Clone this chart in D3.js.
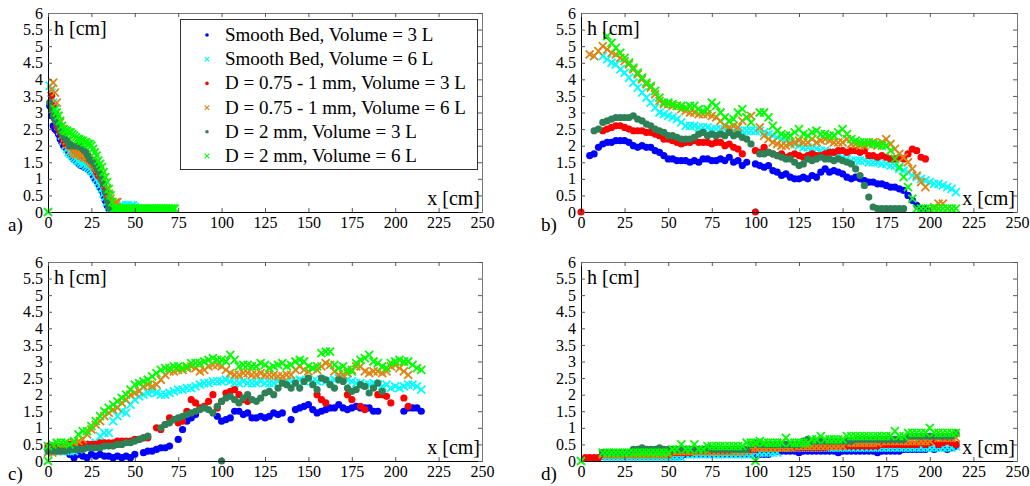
<!doctype html>
<html>
<head>
  <meta charset="utf8">
  <title>h vs x</title>
  <style>
    body {
      margin: 0;
      padding: 0;
      background: #fff;
    }
    svg {
      display: block;
      font-family: 'Liberation Serif', 'Times New Roman', serif;
    }
  </style>
</head>
<body>
  <svg></svg>

  <script src="https://d3js.org/d3.v7.min.js"></script>
  <script>
    const xTickValues = [0, 25, 50, 75, 100, 125, 150, 175, 200, 225, 250]
    const yTickValues = [0, 0.5, 1, 1.5, 2, 2.5, 3, 3.5, 4, 4.5, 5, 5.5, 6]
    const panelLabels = ['a)', 'b)', 'c)', 'd)']
    const seriesNames = [
      'Smooth Bed, Volume = 3 L',
      'Smooth Bed, Volume = 6 L',
      'D = 0.75 - 1 mm, Volume = 3 L',
      'D = 0.75 - 1 mm, Volume = 6 L',
      'D = 2 mm, Volume = 3 L',
      'D = 2 mm, Volume = 6 L'
    ]
    const seriesColors = ['#0000ff', '#00ffff', '#ff0000', '#dd8514', '#2e8056', '#00ff00']
    const seriesMarkers = ['dot', 'x', 'dot', 'x', 'dot', 'x']

    // spacing of the readings along x, per panel (cm)
    const panelStep = [1, 2.5, 2.5, 2.5]

    // each series: list of [x start, h values], null = no reading

    // panel a)
    const aBlue = [[1, [3.2, 2.9, 2.6, 2.5, 2.45, 2.35, 2.2, 2.1, 2.0, 1.95, 1.9, 1.8, 1.75, 1.65, 1.6, 1.55, 1.5, 1.45, 1.4, 1.4,
      1.35, 1.35, 1.3, 1.25, 1.2, 1.1, 1.0, 0.95, 0.85, 0.75, 0.65, 0.5, 0.35, 0.2, 0.1, 0.1, 0.1]]]
    const aCyan = [[1, [3.8, 3.6, 3.3, 3.0, 2.8, 2.6, 2.45, 2.3, 2.15, 2.0, 1.9, 1.8, 1.75, 1.7, 1.65, 1.6, 1.55, 1.55, 1.5, 1.45,
      1.45, 1.4, 1.35, 1.3, 1.25, 1.2, 1.1, 1.0, 0.9, 0.8, 0.7, 0.55, 0.45, 0.3, 0.2, 0.1, 0.1, 0.15, 0.1, 0.1,
      0.1, 0.2, 0.2, 0.15, 0.2, 0.2, 0.15, 0.2, 0.2, 0.15]]]
    const aRed = [[2, [3.5, 3.2, 2.8, 2.6, 2.5, 2.4, 2.3, 2.15, 2.05, 2.05, 2.0, 2.0, 1.95, 1.9, 1.85, 1.8, 1.75, 1.75, 1.7, 1.65,
      1.65, 1.6, 1.55, 1.5, 1.4, 1.3, 1.2, 1.1, 1.05, 0.95, 0.8, 0.65, 0.5, 0.35, 0.25, 0.15, 0.1, 0.1]]]
    const aOrange = [[2, [3.7, 3.9, 3.6, 3.3, 2.9, 2.7, 2.5, 2.35, 2.25, 2.15, 2.05, 1.95, 1.85, 1.8, 1.75, 1.75, 1.75, 1.7, 1.7, 1.65,
      1.65, 1.6, 1.55, 1.5, 1.45, 1.4, 1.35, 1.3, 1.2, 1.1, 1.0, 0.85, 0.7, 0.55, 0.4, 0.3, 0.25, 0.3, 0.3]]]
    const aDkGreen = [[1, [3.3, 3.1, 2.9, 2.8, 2.7, 2.6, 2.5, 2.4, 2.3, 2.2, 2.15, 2.05, 2.0, 2.0, 2.0, 2.0, 2.0, 2.0, 1.95, 1.9,
      1.85, 1.8, 1.7, 1.6, 1.55, 1.5, 1.45, 1.35, 1.25, 1.15, 1.0, 0.85, 0.6, 0.35, 0.15, 0.1, 0.1]]]
    const aGreen = [[0, [0]], [4, [3.1, 3.0, 2.9, 2.75, 2.6, 2.5, 2.45, 2.45, 2.4, 2.4, 2.35, 2.3, 2.25, 2.2, 2.2, 2.15, 2.15, 2.1, 2.1, 2.05,
      2.05, 2.0, 1.9, 1.8, 1.7, 1.55, 1.45, 1.35, 1.2, 1.05, 0.9, 0.7, 0.5, 0.3, 0.1]],
      [39, [0.1, 0.1, 0.1, 0.1, 0.1, 0.1, 0.1, 0.1, 0.1, 0.1, 0.1, 0.1, 0.1, 0.1, 0.1, 0.1, 0.1, 0.1, 0.1, 0.1,
        0.1, 0.1, 0.1, 0.1, 0.1, 0.1, 0.1, 0.1, 0.1, 0.1, 0.1, 0.1, 0.1, 0.1, 0.1]]]

    // panel b)
    const bBlue = [[5, [1.7, 1.75, 1.95, 2.05, 2.1, 2.1, 2.15, 2.15, 2.15, 2.1, 2.0, 1.95, 2.0, 1.95, 1.95, 1.85, 1.8, 1.7, 1.6, 1.6,
      1.55, 1.55, 1.55, 1.5, 1.55, 1.5, 1.6, 1.6, 1.55, 1.55, 1.6, 1.55, 1.65, 1.5, 1.55, 1.4, 1.5]],
      [100, [1.45, 1.4, 1.35, 1.4, 1.25, 1.2, 1.1, 1.15, 1.05, 1.0, 1.0, 1.05, 1.0, 1.1, 1.05, 1.2, 1.3, 1.2, 1.25, 1.2,
        1.15, 1.05, 1.0, 1.05, 1.0, 0.95, 0.9, 0.9, 0.85, 0.85, 0.8, 0.75, 0.75, 0.7, 0.65, 0.5, 0.35, 0.2, 0.1, 0.1]]]
    const bCyan = [[12.5, [4.7, 4.6, 4.5, 4.45, 4.3, 4.2, 4.05, 3.9, 3.75, 3.6, 3.45, 3.3, 3.15, 3.0, 2.95, 2.9, 2.85, 2.8, 2.7, 2.6,
      2.6, 2.6, 2.55, 2.55, 2.55, 2.5, 2.5, 2.5, 2.5, 2.45, 2.45, 2.45, 2.45, 2.45, 2.45, 2.45, 2.45, 2.4, 2.35, 2.3,
      2.25, 2.2, 2.15, 2.1, 2.05, 2.0, 1.95, 1.95, 1.9, 1.9, 1.85, 1.85, 1.8, 1.8, 1.75, 1.65, 1.6, 1.55, 1.55, 1.55,
      1.55, 1.5, 1.5, 1.5, 1.45, 1.45, 1.4, 1.4, 1.3, 1.25, 1.2, 1.1, 1.05, 1.0, 0.95, 0.9, 0.85, 0.85, 0.8, 0.75,
      0.7, 0.6]]]
    const bRed = [[0, [0]], [100, [0]],
      [12.5, [2.45, 2.5, 2.55, 2.6, 2.6, 2.55, 2.5, 2.45, 2.45, 2.45, 2.4, 2.4, 2.35, 2.3, 2.2, 2.2, 2.15, 2.1, 2.05, 2.1,
        2.1, 2.15, 2.1, 2.1, 2.1, 2.05, 2.1, 2.1, 2.0, 2.05, 1.95, 1.9, 1.75]],
      [100, [1.85, 1.8, 1.95, 1.8, 1.75, 1.7, 1.75, 1.65, 1.7, 1.75, 1.7, 1.65, 1.7, 1.75, 1.7, 1.7, 1.75, 1.8, 1.8, 1.85,
        1.85, 1.8, 1.85, 1.85, 1.8, 1.85, 1.7, 1.7, 1.65, 1.7, 1.65, 1.6, 1.6, 1.65, 1.6, 1.75, 1.9, 1.85, 1.65, 1.6]]]
    const bOrange = [[5, [4.75, 4.7, 4.85, 5.0, 4.9, 4.8, 4.75, 4.65, 4.55, 4.45, 4.3, 4.15, 4.0, 3.85, 3.75, 3.55, 3.35, 3.25, 3.25, 3.2,
      3.2, 3.1, 3.05, 3.0, 3.0, 2.95, 2.95, 2.95, 2.9, 2.85, 2.75, 2.6, 2.55, 2.6, 2.55, 2.75, 2.85, 2.9]],
      [102.5, [2.55, 2.3, 2.2, 2.1, 2.05, 2.0, 2.0, 2.05, 2.1, 2.15, 2.1, 2.1, 2.2, 2.1, 2.15, 2.2, 2.15, 2.1, 2.1, 2.1,
        2.2, 2.05, 2.05, 2.0, 2.0, 2.05, 2.1, 2.0, 2.1, 2.2, 2.05, 1.9, 1.75, 1.65, 1.5, 1.3, 1.1, 0.9, 0.75]],
      [202.5, [0.15, 0.25, 0.25, 0.1]]]
    const bDkGreen = [[7.5, [2.45, 2.5, 2.7, 2.75, 2.8, 2.85, 2.85, 2.85, 2.85, 2.9, 2.8, 2.75, 2.65, 2.6, 2.5, 2.45, 2.4, 2.3, 2.3, 2.25,
      2.2, 2.2, 2.2, 2.25, 2.35, 2.4, 2.3, 2.35, 2.3, 2.35, 2.3, 2.4, 2.3, 2.35, 2.25, 2.2, 2.05]],
      [102.5, [1.75, 1.75, 1.8, 1.75, 1.7, 1.65, 1.6, 1.6, 1.5, 1.4, 1.45, 1.6, 1.55, 1.6, 1.65, 1.6, 1.6, 1.55, 1.6, 1.55,
        1.5, 1.45, 1.3, 1.1, 0.8, 0.45, 0.15, 0.1, 0.1, 0.1, 0.1, 0.1, 0.1, 0.1]]]
    const bGreen = [[15, [5.3, 5.1, 4.95, 4.8, 4.65, 4.5, 4.35, 4.2, 4.05, 3.9, 3.8, 3.65, 3.45, 3.3, 3.3, 3.25, 3.2, 3.2, 3.15, 3.2,
      3.2, 3.1, 3.05, 3.1, 3.3, 3.2, 3.0, 2.85, 2.75, 2.8, 3.0, 3.1, 2.85, 2.7]],
      [102.5, [3.0, 3.0, 2.85, 2.6, 2.45, 2.35, 2.3, 2.3, 2.4, 2.5, 2.35, 2.3, 2.4, 2.45, 2.35, 2.35, 2.3, 2.3, 2.4, 2.5,
        2.35, 2.2, 2.15, 2.1, 2.1, 2.1, 2.05, 2.05, 2.0, 2.0, 1.85, 1.6, 1.35, 1.05, 0.75, 0.4, 0.1, 0.1, 0.1, 0.1,
        0.1, 0.1, 0.1, 0.1, 0.1, 0.1]]]

    // panel c)
    const cBlue = [[12.5, [0.2, 0.1, 0.2, 0.15, 0.1, 0.2, 0.15, 0.2, 0.15, 0.15, 0.1, 0.15, 0.1, 0.15, 0.1, 0.2]],
      [55, [0.25, 0.3, 0.3, 0.35, 0.4, 0.4, 0.45]],
      [75, [0.65, 0.95, 1.2, 1.3, 1.4]],
      [97.5, [1.35, 1.2, 1.25, 1.3, 1.5, 1.5, 1.4, 1.45, 1.3, 1.3, 1.35, 1.3, 1.35, 1.45, 1.4, 1.45]],
      [140, [1.25, 1.55, 1.6, 1.65, 1.7, 1.55, 1.45, 1.5, 1.55, 1.6, 1.6, 1.7, 1.6, 1.55, 1.6, 1.65, 1.6, 1.6, 1.6, 1.5, 1.5]],
      [205, [1.5, 1.6, 1.6, 1.6, 1.5]]]
    const cCyan = [[0, [0.3, 0.3, 0.3, 0.3, 0.3, 0.3, 0.3, 0.35, 0.4, 0.45, 0.5, 0.55, 0.75, 0.85, 0.85, 1.2, 1.35, 1.5, 1.45, 1.7,
      1.85, 1.95, 2.0, 2.05, 2.1, 2.05, 2.0, 2.0, 2.05, 2.1, 2.15, 2.15, 2.2, 2.2, 2.25, 2.3, 2.35, 2.35, 2.4, 2.4,
      2.4, 2.45, 2.4, 2.35, 2.35, 2.4, 2.35, 2.35, 2.35, 2.4, 2.35, 2.35, 2.35, 2.4, 2.35, 2.4, 2.4, 2.4, 2.45, 2.4,
      2.45, 2.4, 2.4, 2.45, 2.4, 2.4, 2.45, 2.5, 2.5, 2.45, 2.4, 2.35, 2.35, 2.3, 2.3, 2.35, 2.3, 2.25, 2.3, 2.2,
      2.25, 2.2, 2.25, 2.3, 2.3, 2.25, 2.15]]]
    const cRed = [[0, [0.45, 0.45, 0.45, 0.45, 0.45, 0.5, 0.5, 0.45, 0.5, 0.5, 0.5, 0.5, 0.55, 0.55, 0.55, 0.55, 0.6, 0.6, 0.6, 0.6,
      0.65, 0.65, 0.7, 0.7]],
      [62.5, [1.0, 0.95, 1.1, 1.3, 1.25, 1.15, 1.2, 1.5, 1.85, 1.75, 1.6, 1.65, 1.8, 2.0, 1.6, 1.8, 2.05, 2.1, 2.15, 2.0,
        1.85, 1.8]],
      [155, [2.0, 1.85, 1.75]], [172.5, [2.0, 1.85]], [180, [1.65, 1.55]],
      [190, [2.0, 2.0, 1.95, 1.75]], [205, [1.9, 1.65]]]
    const cOrange = [[0, [0.25, 0.25, 0.3, 0.4, 0.45, 0.45, 0.55, 0.6, 0.65, 0.8, 0.95, 1.1, 1.2, 1.35, 1.45, 1.55, 1.6, 1.75, 1.85, 2.0,
      2.05, 2.1, 2.25, 2.3, 2.25, 2.3, 2.45, 2.6, 2.7, 2.7, 2.75, 2.75, 2.8, 2.85, 2.8, 2.7, 2.75, 2.85, 2.9, 2.9,
      2.85, 2.75, 2.65, 2.6, 2.6, 2.65, 2.65, 2.6, 2.6, 2.65, 2.6, 2.6, 2.6, 2.55, 2.55, 2.6, 2.6, 2.75, 2.85, 2.75,
      2.7, 2.8, 2.75, 2.85, 2.95, 2.9, 2.7, 2.6, 2.6, 2.65, 2.75, 2.85, 2.85, 2.7, 2.65, 2.7, 2.7, 2.65, 2.7, 2.85,
      2.9, 2.8, 2.7, 2.6]]]
    const cDkGreen = [[100, [0]],
      [0, [0.3, 0.3, 0.3, 0.3, 0.3, 0.35, 0.35, 0.35, 0.35, 0.4, 0.4, 0.4, 0.4, 0.45, 0.45, 0.45, 0.5, 0.5, 0.55, 0.55,
        0.6, 0.65, 0.7, 0.75]],
      [65, [1.0, 1.1, 1.15, 1.25, 1.3, 1.35, 1.4, 1.45, 1.5, 1.55, 1.6, 1.55, 1.45, 1.65, 1.8, 1.9, 1.95, 1.85, 1.75, 1.9,
        2.0, 1.85, 1.8, 1.9, 2.05, 2.1, 2.0, 2.2, 2.35, 2.3, 2.2, 2.35, 2.2, 2.4, 2.5, 2.3, 2.15, 2.5, 2.45, 2.3,
        2.2, 2.45, 2.4, 2.2, 2.1, 2.15, 2.3, 2.25, 2.05, 2.2, 2.35, 2.1]]]
    const cGreen = [[0, [0]],
      [0, [0.45, 0.5, 0.55, 0.55, 0.55, 0.5, 0.6, 0.8, 0.9, 0.9, 1.05, 1.2, 1.35, 1.5, 1.6, 1.7, 1.8, 1.9, 2.0, 2.15,
        2.3, 2.35, 2.4, 2.45, 2.55, 2.65, 2.75, 2.8, 2.8, 2.85, 2.85, 2.8, 2.85, 2.95, 2.95, 2.95, 3.0, 3.05, 3.1, 3.05,
        3.05, 3.0, 3.2, 3.05, 2.85, 2.9, 2.9, 2.85, 2.85, 2.95, 2.9, 2.8, 2.85, 2.9, 2.95, 2.85, 2.9, 3.0, 3.05, 3.0,
        2.85, 2.8, 2.85, 3.25, 3.3, 3.3, 2.9, 2.8, 2.85, 2.75, 2.7, 2.95, 3.05, 3.1, 3.2, 3.0, 2.95, 2.85, 2.8, 2.95,
        3.0, 3.05, 3.0, 3.0, 2.9, 2.8, 2.75]]]

    // panel d)
    const dBlue = [[12.5, [0.15, 0.15, 0.15, 0.15, 0.15, 0.15, 0.15, 0.15, 0.15, 0.15, 0.15, 0.15, 0.15, 0.15, 0.15, 0.15, 0.15, 0.15, 0.15, 0.2,
      0.2, 0.2, 0.2, 0.2, 0.2, 0.2, 0.2, 0.2, 0.2, 0.2, 0.2, 0.2, 0.2, 0.2, 0.2, 0.2, 0.2, 0.2, 0.2, 0.3,
      0.3, 0.3, 0.3, 0.3, 0.3, 0.25, 0.3, 0.3, 0.3, 0.3, 0.3, 0.3, 0.3, 0.3, 0.25, 0.3, 0.3, 0.3, 0.3, 0.3,
      0.3, 0.3, 0.3, 0.25, 0.3, 0.3, 0.3, 0.3, 0.3, 0.35, 0.35, 0.35, 0.35, 0.35, 0.35, 0.4, 0.35, 0.4, 0.4, 0.35,
      0.4, 0.45]]]
    const dCyan = [[12.5, [0.1, 0.1, 0.1, 0.1, 0.1, 0.1, 0.1, 0.1, 0.1, 0.1, 0.1, 0.1, 0.1, 0.1, 0.1, 0.1, 0.1, 0.1, 0.1, 0.2,
      0.2, 0.2, 0.2, 0.2, 0.2, 0.2, 0.2, 0.2, 0.2, 0.2, 0.2, 0.2, 0.2, 0.2, 0.2, 0.25, 0.25, 0.25, 0.25, 0.25,
      0.25, 0.4, 0.4, 0.4, 0.4, 0.4, 0.4, 0.4, 0.4, 0.4, 0.4, 0.4, 0.4, 0.4, 0.4, 0.4, 0.4, 0.4, 0.4, 0.4,
      0.4, 0.4, 0.4, 0.4, 0.4, 0.4, 0.4, 0.4, 0.4, 0.4, 0.4, 0.4, 0.4, 0.4, 0.4, 0.4, 0.4, 0.4, 0.4, 0.4,
      0.4, 0.45]]]
    const dRed = [[2.5, [0.1, 0.1, 0.1, 0.1]],
      [12.5, [0.2, 0.2, 0.2, 0.2, 0.2, 0.2, 0.2, 0.2, 0.2, 0.2, 0.2, 0.2, 0.2, 0.2, 0.2, 0.2, 0.25, 0.25, 0.25, 0.25,
        0.25, 0.3, 0.3, 0.3, 0.3, 0.3, 0.3, 0.3, 0.3, 0.3, 0.35, 0.35, 0.35, 0.35, 0.35, 0.35, 0.4, 0.4, 0.4, 0.4,
        0.4, 0.4, 0.4, 0.4, 0.4, 0.4, 0.4, 0.4, 0.4, 0.4, 0.4, 0.4, 0.45, 0.45, 0.45, 0.45, 0.45, 0.45, 0.45, 0.45,
        0.45, 0.45, 0.45, 0.45, 0.5, 0.5, 0.5, 0.5, 0.5, 0.5, 0.5, 0.5, 0.5, 0.55, 0.5, 0.55, 0.6, 0.5, 0.55, 0.6,
        0.55, 0.5]]]
    const dOrange = [[12.5, [0.2, 0.2, 0.2, 0.2, 0.2, 0.2, 0.2, 0.2, 0.2, 0.2, 0.2, 0.2, 0.2, 0.2, 0.2, 0.2, 0.3, 0.3, 0.3, 0.3,
      0.3, 0.3, 0.3, 0.3, 0.3, 0.3, 0.3, 0.3, 0.3, 0.3, 0.3, 0.3, 0.3, 0.3, 0.4, 0.4, 0.4, 0.4, 0.4, 0.4,
      0.4, 0.4, 0.4, 0.4, 0.45, 0.45, 0.45, 0.45, 0.45, 0.45, 0.45, 0.45, 0.45, 0.45, 0.45, 0.45, 0.55, 0.55, 0.55, 0.55,
      0.55, 0.55, 0.55, 0.55, 0.6, 0.6, 0.6, 0.6, 0.6, 0.6, 0.6, 0.6, 0.6, 0.6, 0.6, 0.6, 0.7, 0.7, 0.7, 0.7,
      0.7, 0.7]]]
    const dDkGreen = [[12.5, [0.25, 0.25, 0.25, 0.25, 0.25, 0.25, 0.25, 0.35, 0.35, 0.4, 0.35, 0.35, 0.35, 0.4, 0.35, 0.35, 0.35, 0.35, 0.35, 0.35,
      0.35, 0.35, 0.35, 0.35, 0.4, 0.35, 0.35, 0.35, 0.35, 0.35, 0.35, 0.35, 0.35, 0.35, 0.5, 0.55, 0.5, 0.5, 0.5, 0.5,
      0.5, 0.5, 0.5, 0.5, 0.5, 0.5, 0.6, 0.65, 0.6, 0.6, 0.6, 0.6, 0.6, 0.6, 0.6, 0.6, 0.6, 0.6, 0.65, 0.65, 0.65,
      0.65, 0.65, 0.65, 0.65, 0.65, 0.65, 0.65, 0.65, 0.65, 0.75, 0.75, 0.75, 0.75, 0.75, 0.75, 0.75, 0.75, 0.75, 0.75,
      0.75, 0.85]]]
    const dGreen = [[0, [0]], [100, [0]],
      [12.5, [0.25, 0.25, 0.25, 0.25, 0.25, 0.25, 0.25, 0.25, 0.25, 0.25, 0.25, 0.25, 0.25, 0.25, 0.25, 0.25, 0.35, 0.35, 0.5, 0.35,
        0.35, 0.5, 0.35, 0.35, 0.45, 0.45, 0.45, 0.45, 0.45, 0.45, 0.45, 0.45, 0.45, 0.55, 0.55, 0.55, 0.6, 0.55, 0.55, 0.55,
        0.55, 0.55, 0.7, 0.55, 0.55, 0.55, 0.55, 0.55, 0.65, 0.65, 0.75, 0.65, 0.65, 0.65, 0.65, 0.65, 0.75, 0.75, 0.75, 0.75,
        0.75, 0.75, 0.75, 0.75, 0.75, 0.75, 0.75, 0.9, 0.75, 0.75, 0.85, 0.85, 0.85, 0.85, 0.85, 1.0, 0.85, 0.85, 0.85, 0.85,
        0.85, 0.85]]]

    const panelData = [
      [aBlue, aCyan, aRed, aOrange, aDkGreen, aGreen],
      [bBlue, bCyan, bRed, bOrange, bDkGreen, bGreen],
      [cBlue, cCyan, cRed, cOrange, cDkGreen, cGreen],
      [dBlue, dCyan, dRed, dOrange, dDkGreen, dGreen]
    ]

    const width = 1030
    const height = 486
    const serif = "'Liberation Serif', 'Times New Roman', serif"

    const boxes = [
      { left: 48, right: 482, top: 13, bottom: 212 },
      { left: 581, right: 1017, top: 13, bottom: 212 },
      { left: 48, right: 482, top: 262, bottom: 461 },
      { left: 581, right: 1017, top: 262, bottom: 461 }
    ]

    const svg = d3.select('svg')
      .attr('width', width)
      .attr('height', height)

    const dotR = 3.6
    const crossR = 4

    function crossPath (cx, cy, s) {
      return `M${cx - s},${cy - s}L${cx + s},${cy + s}M${cx - s},${cy + s}L${cx + s},${cy - s}`
    }

    boxes.forEach((box, p) => {
      const x = d3.scaleLinear().domain([0, 250]).range([box.left, box.right])
      const y = d3.scaleLinear().domain([0, 6]).range([box.bottom, box.top])
      const g = svg.append('g')

      panelData[p].forEach((segments, s) => {
        const pts = []
        segments.forEach(([x0, hs]) => {
          hs.forEach((h, i) => {
            if (h !== null) pts.push([x0 + i * panelStep[p], h])
          })
        })
        const sg = g.append('g')
        if (seriesMarkers[s] === 'dot') {
          sg.selectAll('circle')
            .data(pts)
            .join('circle')
            .attr('cx', d => x(d[0]))
            .attr('cy', d => y(d[1]))
            .attr('r', dotR)
            .style('fill', seriesColors[s])
        } else {
          sg.selectAll('path')
            .data(pts)
            .join('path')
            .attr('d', d => crossPath(x(d[0]), y(d[1]), crossR))
            .style('fill', 'none')
            .style('stroke', seriesColors[s])
            .style('stroke-width', 1.8)
        }
      })

      // box with inward ticks on all four sides
      const axes = [
        { axis: d3.axisBottom(x).tickValues(xTickValues), at: `translate(0,${box.bottom})`, labels: true, color: '#000' },
        { axis: d3.axisLeft(y).tickValues(yTickValues), at: `translate(${box.left},0)`, labels: true, color: '#000' },
        { axis: d3.axisTop(x).tickValues(xTickValues), at: `translate(0,${box.top})`, labels: false, color: '#777' },
        { axis: d3.axisRight(y).tickValues(yTickValues), at: `translate(${box.right},0)`, labels: false, color: '#777' }
      ]
      axes.forEach(a => {
        a.axis.tickSizeInner(-4).tickSizeOuter(0).tickPadding(5)
          .tickFormat(a.labels ? d => String(d) : '')
        const ag = g.append('g')
          .attr('transform', a.at)
          .call(a.axis)
          .attr('font-family', serif)
          .attr('font-size', 16)
        ag.select('.domain').attr('stroke', a.color)
        ag.selectAll('.tick line').attr('stroke', '#555')
        ag.selectAll('.tick text')
          .attr('fill', '#000')
          .style('font-family', serif)
          .style('font-size', '16px')
      })

      g.append('text')
        .attr('x', box.left + 6)
        .attr('y', box.top + 22)
        .style('font-size', '20px')
        .text('h [cm]')

      g.append('text')
        .attr('x', box.right - 2)
        .attr('y', box.bottom - 7)
        .style('font-size', '20px')
        .style('text-anchor', 'end')
        .text('x [cm]')

      g.append('text')
        .attr('x', box.left - 40)
        .attr('y', box.bottom + 19)
        .style('font-size', '19px')
        .text(panelLabels[p])
    })

    // legend, panel a)
    const legend = svg.append('g')
    legend.append('rect')
      .attr('x', 180.5)
      .attr('y', 19.5)
      .attr('width', 297)
      .attr('height', 150)
      .style('fill', '#fff')
      .style('stroke', '#333')

    seriesNames.forEach((name, i) => {
      const base = 41 + i * 24.2
      if (seriesMarkers[i] === 'dot') {
        legend.append('circle')
          .attr('cx', 207)
          .attr('cy', base - 6)
          .attr('r', 1.8)
          .style('fill', seriesColors[i])
      } else {
        legend.append('path')
          .attr('d', crossPath(207, base - 6, 2.3))
          .style('fill', 'none')
          .style('stroke', seriesColors[i])
          .style('stroke-width', 1.1)
      }
      legend.append('text')
        .attr('x', 225)
        .attr('y', base)
        .style('font-size', '19px')
        .text(name)
    })
  </script>
</body>
</html>
